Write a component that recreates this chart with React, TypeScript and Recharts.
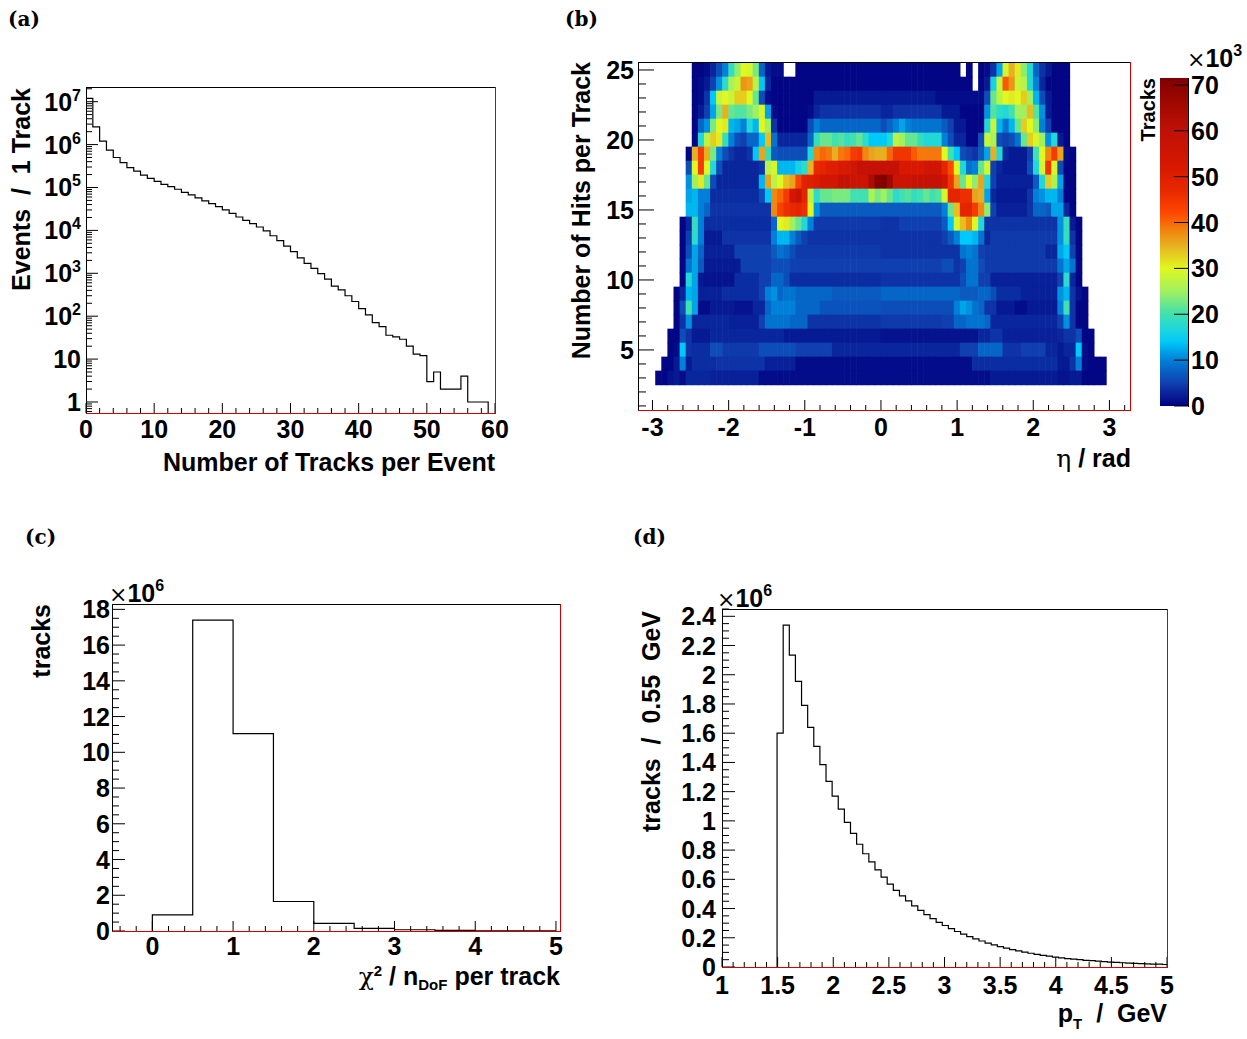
import React from 'react';
import { LineChart, Line, XAxis, YAxis, ScatterChart, Scatter, BarChart, Bar } from 'recharts';

const SANS = '"Liberation Sans", Arial, Helvetica, sans-serif';
const SERIF = '"DejaVu Serif", "Liberation Serif", serif';
const FS = 25;
const RED = '#d40000';

// ---------------- (a) tracks per event ----------------
const A_COUNTS = [
  1.2e7, 2.6e6, 1.2e6, 7.4e5, 5.0e5, 3.8e5, 2.9e5, 2.4e5, 1.95e5, 1.63e5,
  1.39e5, 1.18e5, 1.05e5, 9.1e4, 7.7e4, 6.7e4, 5.7e4, 4.9e4, 4.2e4, 3.6e4,
  3.0e4, 2.5e4, 2.05e4, 1.72e4, 1.44e4, 1.2e4, 9.7e3, 7.5e3, 5.8e3, 4.3e3,
  3.2e3, 2.3e3, 1.7e3, 1.3e3, 980, 730, 500, 410, 300, 220,
  150, 107, 71, 57, 36, 33, 29, 20, 13, 12,
  3, 5, 2, 2, 2, 4, 1, 1, 1, 0,
];
const A_XMIN = 0, A_XMAX = 60;
const A_YMIN = 0.554, A_YMAX = 2.2e7;
const A_X_TICKS = Array.from({ length: 31 }, (_, i) => 2 * i);
const A_Y_TICKS: number[] = [];
for (let d = -1; d <= 7; d++) for (let m = 1; m <= 9; m++) { const v = m * Math.pow(10, d); if (v >= A_YMIN && v <= A_YMAX) A_Y_TICKS.push(v); }

// ---------------- (b) hits vs eta ----------------
const ETA_MIN = -2.96, ETA_BIN = 0.08;
const HIT_ROWS = [25, 24, 23, 22, 21, 20, 19, 18, 17, 16, 15, 14, 13, 12, 11, 10, 9, 8, 7, 6, 5, 4, 3];
const HEAT: number[][] = [
  [0,0,0,0,0,0,.5,.5,1,3,6,10,19,24,30,29,23,8,2,1,1,0,0,.5,.5,.5,.5,.5,.5,.5,.5,.5,.5,.5,.5,.5,.5,
   .5,.5,.5,.5,.5,.5,.5,.5,.5,.5,.5,.5,.5,0,.5,0,.5,1,4,12,29,35,31,24,17,8,4,2,.5,.5,.5,0,0,0,0,0,0],
  [0,0,0,0,0,0,.5,1,2,5,11,18,26,28,37,36,27,14,3,.5,.5,.5,.5,.5,.5,.5,.5,.5,.5,.5,.5,.5,.5,.5,.5,.5,.5,
   .5,.5,.5,.5,.5,.5,.5,.5,.5,.5,.5,.5,.5,.5,.5,0,.5,2,16,28,41,37,28,27,17,10,3,.5,.5,.5,.5,0,0,0,0,0,0],
  [0,0,0,0,0,0,.5,1,4,14,28,30,28,33,33,30,22,6,1,.5,.5,.5,.5,.5,.5,.5,2,2,2,2,2,2,2,2,2,2,2,
   2,2,2,2,2,2,2,2,2,1,1,1,1,1,1,1,1,6,22,27,30,31,30,33,25,13,6,2,.5,.5,.5,0,0,0,0,0,0],
  [0,0,0,0,0,0,.5,2,5,12,23,35,22,21,21,23,25,29,12,1,.5,.5,.5,.5,.5,1,3,4,4,4,4,4,4,4,4,4,4,
   3,3,4,4,4,4,4,4,4,4,2,2,2,.5,.5,.5,.5,11,21,18,17,20,25,25,34,21,11,2,.5,.5,.5,0,0,0,0,0,0],
  [0,0,0,0,0,0,.5,8,11,23,30,31,13,12,10,17,13,30,25,4,.5,.5,.5,.5,.5,6,10,8,8,8,8,8,8,8,8,8,8,
   6,8,10,12,10,9,9,9,9,9,7,5,2,2,.5,.5,.5,17,28,13,9,13,22,33,30,24,10,5,.5,.5,.5,0,0,0,0,0,0],
  [0,0,0,0,0,0,.5,17,27,33,31,19,10,6,5,8,8,14,34,9,3,3,3,3,3,8,19,22,22,20,21,19,20,22,18,14,14,
   14,17,27,25,22,22,19,17,17,17,10,6,3,3,.5,.5,6,28,26,6,5,6,9,22,33,29,25,11,17,2,.5,0,0,0,0,0,0],
  [0,0,0,0,0,.5,35,44,35,23,10,6,4,3,3,4,14,36,19,7,6,6,6,6,6,17,38,40,39,35,39,40,44,45,38,36,35,
   35,40,45,45,45,41,39,39,39,39,30,20,14,6,5,4,7,12,35,17,3,2,2,2,5,20,30,38,44,36,1,.5,0,0,0,0,0],
  [0,0,0,0,0,6,30,44,30,17,6,3,3,3,3,3,3,4,27,29,13,13,13,16,18,35,47,48,50,50,52,52,55,58,58,58,58,
   58,58,58,52,52,52,52,55,55,55,48,42,30,17,9,10,22,29,5,3,2,2,2,2,6,17,29,45,29,6,.5,.5,0,0,0,0,0],
  [0,0,0,0,0,11,25,31,22,6,3,3,3,3,3,3,3,13,36,27,30,34,36,43,49,50,51,54,54,54,58,58,56,56,56,64,70,
   71.5,66,56,56,56,58,58,58,58,58,55,45,36,22,30,24,36,17,5,2.5,2.5,2.5,2.5,2.5,2.5,7,17,33,26,12,.5,.5,0,0,0,0,0],
  [0,0,0,0,0,12,13,10,10,3.5,3.5,3.5,3.5,3.5,3.5,3.5,3.5,6,14,38,40,44,54,57,48,27,18,22,22,23,23,23,20,20,20,26,23,
   25,22,18,20,21,19,20,22,20,21,29,48,48,46,46,36,35,12,3,2,2,2,2,2,4,10,11,13,13,10,.5,.5,0,0,0,0,0],
  [0,0,0,0,0,13,13,10,8,4,4,4,4,4,4,4,4,4,4,38,43,46,47,48,46,30,11,7,7,7,7,7,7,7,7,7,7,
   7,7,7,7,7,7,7,7,7,7,10,22,34,48,48,44,38,24,5,2.5,2.5,2.5,2.5,2.5,4,8,8,7,12,12,3,.5,0,0,0,0,0],
  [0,0,0,0,.5,3,19,10,3.5,3.5,3.5,3.5,3.5,3.5,3.5,3.5,3.5,3.5,3.5,8,30,31,25,22,17,10,4.5,4.5,4.5,4.5,4.5,4.5,4.5,4.5,4.5,4.5,4.5,
   4,4,4,5,5,5,5,5,5,5,7,14,29,34,38,30,17,4,4,4,4,4,4,4,4,4,4,4,4,11,19,2,.5,0,0,0,0],
  [0,0,0,0,.5,5,18,10,2,2,2,4,4,4,4,4,4,4,4,10,13,13,10,7,5,4,4,4,4,4,4,4,4,4,4,4,4,
   4,4,4,4,4,4,4,4,4,4,5,7,10,14,14,13,9,3,4.5,4.5,4.5,4.5,4.5,4.5,4.5,4.5,4.5,4.5,4.5,11,19,4,.5,0,0,0,0],
  [0,0,0,0,.5,6,12,8,2.5,2.5,2.5,2.5,2.5,5,5,5,5,5,5,7,9,8,6,4.5,4.5,4.5,4.5,4.5,4.5,4.5,4.5,4.5,4.5,4.5,4.5,4.5,4.5,
   4,4,4,4,4,4,4,4,4,4,4,4,4,9,10,9,5,4.5,4.5,4.5,4.5,4.5,4.5,4.5,4.5,4.5,4.5,3,3,12,14,5,.5,0,0,0,0],
  [0,0,0,0,.5,9,12,7,2,2,2,2,2,2,5,5,5,5,5,6,6,6,5,5,5,5,5,5,5,5,5,5,5,5,5,5,5,
   5,5,5,5,5,5,5,5,5,5,6,6,4,5,9,9,6,4.5,4.5,4.5,4.5,4.5,4.5,4.5,4.5,4.5,4.5,4.5,4.5,9,12,9,.5,0,0,0,0],
  [0,0,0,0,.5,17,12,2,1.5,1.5,1.5,1.5,1.5,3.5,3.5,3.5,3.5,5,5,8,8,6,3.5,3.5,3.5,3.5,3.5,3.5,3.5,3.5,3.5,3.5,3.5,3.5,3.5,3.5,3.5,
   4,4,4,4,4,4,4,4,4,4,4,4,4,6,9,9,5,5,2.5,2.5,2.5,2.5,2.5,2.5,2.5,2.5,2.5,2.5,2.5,5,18,3,.5,0,0,0,0],
  [0,0,0,.5,3,13,12,2.5,2.5,2.5,2.5,3.5,3.5,3.5,3.5,3.5,3.5,5,10,11,8,9,9,8,8,8,8,8,8,7,7,7,7,7,7,7,7,
   8,8,8,8,8,8,8,8,8,8,8,8,8,7,7,7,8,8,6,3.5,3.5,3.5,3.5,2.5,2.5,2.5,2.5,2.5,2.5,11,13,4,1.5,.5,0,0,0],
  [0,0,0,.5,6,20,12,1,1,2,2,2,2,1.5,1.5,1.5,3,3,8,10,10,10,10,8,8,8,8,6.5,6.5,6.5,6.5,6.5,6.5,6.5,6.5,6.5,6.5,
   6,6,6,6,6,6,6,6,6,6,6,6,10,12,11,9,8,4,4,2,2,2,1,1,2,2,2,2,2,10,20,4,.5,.5,0,0,0],
  [0,0,0,.5,4,11,3,3,3,3,3,3,2.5,2.5,2.5,2.5,2.5,5,9,9,9,9,8,8,8,4,4,4,4,4,4,4,4,4,4,4,4,
   4.5,4.5,4.5,4.5,4.5,4.5,4.5,4.5,4.5,4.5,5,5,8,8,9,9,9,8,3,3,3,3,3,3,3,3,3,3,3,5,11,4,.5,.5,0,0,0],
  [0,0,.5,.5,6,4,2,2,2,3,3,3,3,3,3,3,3,3,3,3,3,2,2,2,2,2,2,2,2,2,2,2,2,2,2,2,2,
   1.5,1.5,1.5,1.5,1.5,1.5,1.5,1.5,1.5,1.5,1.5,1.5,1.5,1.5,1.5,1.5,3,3,4,4,2.5,2.5,2.5,2.5,2.5,2.5,2.5,2.5,2.5,3,4,4,6,.5,.5,0,0],
  [0,0,.5,1,14,4,3.5,3.5,3.5,6,6,4.5,4.5,4.5,4.5,4.5,4.5,6,6,6,6,6,6,5,5,5,5,5,5,3,3,3,3,3,3,3,3,
   3,3,3,3,3,3,3,3,3,3,3,3,3,5,5,5,8,8,8,8,4,4,4,5,5,5,5,3,3,2,3,3,14,1,.5,0,0],
  [0,.5,.5,2,10,2,3.5,3.5,3.5,3.5,4,4,4,4,4,4,4,4,2.5,2.5,2.5,2.5,2.5,1,1,1,1,1,1,1,1,1,1,1,1,1,1,
   1,1,1,1,1,1,1,1,1,1,1,1,1,1,1,3.5,3.5,3.5,3.5,3.5,3.5,3.5,3.5,3.5,3.5,3.5,3.5,3.5,3.5,2,2,4,10,1,.5,.5,.5],
  [.5,.5,1.5,2,1,3,3,3,3,2.5,2.5,2.5,2.5,2.5,2.5,2.5,2.5,1,1,1,1,1,1,1,1,1,1,1,1,1,1,1,1,1,1,1,1,
   1,1,1,1,1,1,1,1,1,1,1,1,1,1,1,1,1,1,2,2,2,2,2,2,2,2,2,2,2,1.5,1.5,2,2,.5,.5,.5,.5],
];
const B_XMIN = -3.19, B_XMAX = 3.27, B_YMIN = 0.71, B_YMAX = 25.57;
const B_X_TICKS = Array.from({ length: 32 }, (_, i) => (i - 15) / 5);
const B_Y_TICKS = Array.from({ length: 25 }, (_, i) => i + 1);
const Z_TICKS = [0, 10, 20, 30, 40, 50, 60, 70];

// colour palette (value in 10^3 tracks -> rgb)
const PAL_STOPS = [0, 5, 10, 14, 17, 20, 25, 30, 35, 38, 42, 47, 52, 60, 66, 71.5];
const PAL_RGB = [[0,0,128],[16,64,176],[0,128,216],[0,200,248],[32,216,216],[64,224,176],[160,240,96],[224,248,32],[232,176,32],[240,136,16],[255,72,0],[232,40,0],[216,24,0],[192,16,8],[160,8,0],[128,0,0]];

// ---------------- (c) chi2 / ndof ----------------
const C_EDGES = [0, 0.5, 1, 1.5, 2, 2.5, 3, 3.5, 4, 4.5, 5];
const C_COUNTS = [0.9, 17.4, 11.05, 1.65, 0.43, 0.15, 0.07, 0.03, 0.015, 0.01];
const C_XMIN = -0.5, C_XMAX = 5.05, C_YMAX = 18.3;
const C_X_TICKS = Array.from({ length: 28 }, (_, i) => (i - 2) / 5);
const C_Y_TICKS = Array.from({ length: 37 }, (_, i) => i / 2);

// ---------------- (d) pT ----------------
const D_EDGE0 = 1.495, D_BIN = 0.055;
const D_COUNTS = [
  1.60, 2.34, 2.135, 1.955, 1.79, 1.64, 1.51, 1.385, 1.27, 1.17,
  1.08, 0.99, 0.915, 0.84, 0.775, 0.72, 0.665, 0.615, 0.567, 0.525,
  0.487, 0.452, 0.418, 0.387, 0.358, 0.331, 0.306, 0.284, 0.263, 0.243,
  0.225, 0.208, 0.192, 0.178, 0.164, 0.152, 0.140, 0.129, 0.119, 0.110,
  0.102, 0.094, 0.087, 0.080, 0.074, 0.068, 0.063, 0.058, 0.054, 0.050,
  0.046, 0.043, 0.040, 0.037, 0.034, 0.032, 0.029, 0.027, 0.025, 0.023,
  0.022, 0.020, 0.019, 0.017,
];
const D_XMIN = 1, D_XMAX = 5, D_YMAX = 2.45;
const D_X_TICKS = Array.from({ length: 41 }, (_, i) => (i + 10) / 10);
const D_Y_TICKS = Array.from({ length: 50 }, (_, i) => i / 20);

// ---------------- layout ----------------
const A_PLOT = { L: 86, T: 87, R: 495, B: 413 };
const B_PLOT = { L: 638, T: 62, R: 1130, B: 410 };
const Z_PLOT = { L: 1160, T: 78, R: 1188, B: 406 };
const C_PLOT = { L: 112, T: 604, R: 560, B: 931 };
const D_PLOT = { L: 722, T: 609, R: 1167, B: 967 };
const PAD = { l: 80, t: 10, r: 24, b: 44 };
type Plot = { L: number; T: number; R: number; B: number };
const boxOf = (p: Plot) => ({ left: p.L - PAD.l, top: p.T - PAD.t, width: p.R - p.L + PAD.l + PAD.r, height: p.B - p.T + PAD.t + PAD.b });

// ---------------- derived tables ----------------
const A_POINTS = A_COUNTS.map((c, i) => ({ x: i, y: Math.max(c, A_YMIN) }));
const C_POINTS = [{ x: C_EDGES[0], y: 0 }, ...C_COUNTS.map((c, i) => ({ x: C_EDGES[i + 1], y: c }))];
const D_POINTS = [{ x: D_EDGE0, y: 0 }, ...D_COUNTS.map((c, i) => ({ x: D_EDGE0 + D_BIN * (i + 1), y: c }))];
const HEAT_CELLS = HEAT.flatMap((row, r) => row.map((v, k) => ({ eta: ETA_MIN + ETA_BIN * (k + 0.5), hits: HIT_ROWS[r], v }))).filter((c) => c.v > 0);
const Z_MAX = Math.max(...HEAT.map((r) => Math.max(...r)));

function heatColor(v: number) {
  let i = 0;
  while (i < PAL_STOPS.length - 2 && v > PAL_STOPS[i + 1]) i++;
  const t = Math.max(0, Math.min(1, (v - PAL_STOPS[i]) / (PAL_STOPS[i + 1] - PAL_STOPS[i])));
  const a = PAL_RGB[i], b = PAL_RGB[i + 1];
  const c = a.map((x, j) => Math.round(x + (b[j] - x) * t));
  return `rgb(${c[0]},${c[1]},${c[2]})`;
}

const CELL_W = ETA_BIN * (B_PLOT.R - B_PLOT.L) / (B_XMAX - B_XMIN);
const CELL_H = 1 * (B_PLOT.B - B_PLOT.T) / (B_YMAX - B_YMIN);
const HeatCell = (props: any) => {
  const { cx, cy, payload } = props;
  if (cx == null || cy == null) return <g />;
  return <rect x={cx - CELL_W / 2 - 0.3} y={cy - CELL_H / 2 - 0.3} width={CELL_W + 0.6} height={CELL_H + 0.6} fill={heatColor(payload.v)} stroke="none" />;
};

// ---------------- ticks ----------------
const txt = { fontFamily: SANS, fontWeight: 700, fontSize: FS, fill: '#000' } as const;
type TickOpts = {
  orient: 'left' | 'bottom' | 'right';
  isMajor: (v: number) => boolean;
  majorLen: number; minorLen: number;
  fmt: (v: number) => React.ReactNode;
  gap: number;
};
const makeTick = (o: TickOpts) => (props: any) => {
  const { x, y, payload } = props;
  const v = payload.value as number;
  const major = o.isMajor(v);
  const len = major ? o.majorLen : o.minorLen;
  if (o.orient === 'left') {
    return (
      <g>
        <line x1={x} y1={y} x2={x + len} y2={y} stroke="#000" strokeWidth={1} />
        {major && <text x={x - o.gap} y={y + 9} textAnchor="end" style={txt}>{o.fmt(v)}</text>}
      </g>
    );
  }
  if (o.orient === 'bottom') {
    return (
      <g>
        <line x1={x} y1={y} x2={x} y2={y - len} stroke="#000" strokeWidth={1} />
        {major && <text x={x} y={y + o.gap} textAnchor="middle" style={txt}>{o.fmt(v)}</text>}
      </g>
    );
  }
  return (
    <g>
      <line x1={x} y1={y} x2={x - len} y2={y} stroke="#000" strokeWidth={1} />
      {major && <text x={x + o.gap} y={y + 9} textAnchor="start" style={txt}>{o.fmt(v)}</text>}
    </g>
  );
};
const near = (a: number, b: number) => Math.abs(a - b) < 1e-6;
const logFmt = (v: number) => {
  const e = Math.round(Math.log10(v));
  if (e === 0) return '1';
  if (e === 1) return '10';
  return (<><tspan>10</tspan><tspan dy={-10} style={{ fontSize: 16 }}>{e}</tspan></>);
};
const aXTick = makeTick({ orient: 'bottom', isMajor: (v) => near(v % 10, 0), majorLen: 10, minorLen: 5, fmt: (v) => String(v), gap: 25 });
const aYTick = makeTick({ orient: 'left', isMajor: (v) => near(Math.log10(v), Math.round(Math.log10(v))), majorLen: 12, minorLen: 6, fmt: logFmt, gap: 5 });
const bXTick = makeTick({ orient: 'bottom', isMajor: (v) => near(v, Math.round(v)), majorLen: 10, minorLen: 5, fmt: (v) => String(Math.round(v)), gap: 26 });
const bYTick = makeTick({ orient: 'left', isMajor: (v) => v % 5 === 0, majorLen: 16, minorLen: 8, fmt: (v) => String(v), gap: 4 });
const zTick = makeTick({ orient: 'right', isMajor: () => true, majorLen: 14, minorLen: 14, fmt: (v) => String(v), gap: 3 });
const cXTick = makeTick({ orient: 'bottom', isMajor: (v) => near(v, Math.round(v)), majorLen: 10, minorLen: 5, fmt: (v) => String(Math.round(v)), gap: 24 });
const cYTick = makeTick({ orient: 'left', isMajor: (v) => near(v % 2, 0), majorLen: 13, minorLen: 7, fmt: (v) => String(v), gap: 2 });
const dXTick = makeTick({ orient: 'bottom', isMajor: (v) => near(v * 2, Math.round(v * 2)), majorLen: 10, minorLen: 5, fmt: (v) => String(Math.round(v * 10) / 10), gap: 27 });
const dYTick = makeTick({ orient: 'left', isMajor: (v) => Math.round(v * 20) % 4 === 0, majorLen: 13, minorLen: 7, fmt: (v) => String(Math.round(v * 10) / 10), gap: 6 });

const axisCommon = { interval: 0 as const, tickSize: 0, tickMargin: 0, axisLine: false, tickLine: false, allowDataOverflow: true };
const margin = { top: PAD.t, right: PAD.r, left: 0, bottom: 0 };

function PanelA() {
  const b = boxOf(A_PLOT);
  return (
    <div style={{ position: 'absolute', left: b.left, top: b.top }}>
      <LineChart width={b.width} height={b.height} data={A_POINTS} margin={margin}>
        <XAxis dataKey="x" type="number" domain={[A_XMIN, A_XMAX]} ticks={A_X_TICKS} height={PAD.b} tick={aXTick} {...axisCommon} />
        <YAxis type="number" scale="log" domain={[A_YMIN, A_YMAX]} ticks={A_Y_TICKS} width={PAD.l} tick={aYTick} {...axisCommon} />
        <Line dataKey="y" type="stepAfter" stroke="#000" strokeWidth={1.2} dot={false} activeDot={false} isAnimationActive={false} />
      </LineChart>
    </div>
  );
}

function PanelB() {
  const b = boxOf(B_PLOT);
  return (
    <div style={{ position: 'absolute', left: b.left, top: b.top }}>
      <ScatterChart width={b.width} height={b.height} margin={margin}>
        <Scatter data={HEAT_CELLS} dataKey="hits" shape={HeatCell} isAnimationActive={false} />
        <XAxis dataKey="eta" type="number" domain={[B_XMIN, B_XMAX]} ticks={B_X_TICKS} height={PAD.b} tick={bXTick} {...axisCommon} />
        <YAxis dataKey="hits" type="number" domain={[B_YMIN, B_YMAX]} ticks={B_Y_TICKS} width={PAD.l} tick={bYTick} {...axisCommon} />
      </ScatterChart>
    </div>
  );
}

function ColorBar() {
  const w = Z_PLOT.R - Z_PLOT.L;
  return (
    <div style={{ position: 'absolute', left: Z_PLOT.L, top: Z_PLOT.T - 10 }}>
      <BarChart width={w + 56} height={Z_PLOT.B - Z_PLOT.T + 34} data={[{ k: 'z', v: Z_MAX }]} margin={{ top: 10, right: 0, left: 0, bottom: 24 }} barCategoryGap={0} barGap={0}>
        <defs>
          <linearGradient id="zgrad" x1="0" y1="1" x2="0" y2="0">
            {PAL_STOPS.map((s, i) => (
              <stop key={i} offset={s / Z_MAX} stopColor={`rgb(${PAL_RGB[i][0]},${PAL_RGB[i][1]},${PAL_RGB[i][2]})`} />
            ))}
          </linearGradient>
        </defs>
        <XAxis dataKey="k" type="category" hide />
        <Bar dataKey="v" fill="url(#zgrad)" isAnimationActive={false} />
        <YAxis orientation="right" type="number" domain={[0, Z_MAX]} ticks={Z_TICKS} width={56} tick={zTick} {...axisCommon} />
      </BarChart>
    </div>
  );
}

function PanelC() {
  const b = boxOf(C_PLOT);
  return (
    <div style={{ position: 'absolute', left: b.left, top: b.top }}>
      <LineChart width={b.width} height={b.height} data={C_POINTS} margin={margin}>
        <XAxis dataKey="x" type="number" domain={[C_XMIN, C_XMAX]} ticks={C_X_TICKS} height={PAD.b} tick={cXTick} {...axisCommon} />
        <YAxis type="number" domain={[0, C_YMAX]} ticks={C_Y_TICKS} width={PAD.l} tick={cYTick} {...axisCommon} />
        <Line dataKey="y" type="stepBefore" stroke="#000" strokeWidth={1.2} dot={false} activeDot={false} isAnimationActive={false} />
      </LineChart>
    </div>
  );
}

function PanelD() {
  const b = boxOf(D_PLOT);
  return (
    <div style={{ position: 'absolute', left: b.left, top: b.top }}>
      <LineChart width={b.width} height={b.height} data={D_POINTS} margin={margin}>
        <XAxis dataKey="x" type="number" domain={[D_XMIN, D_XMAX]} ticks={D_X_TICKS} height={PAD.b} tick={dXTick} {...axisCommon} />
        <YAxis type="number" domain={[0, D_YMAX]} ticks={D_Y_TICKS} width={PAD.l} tick={dYTick} {...axisCommon} />
        <Line dataKey="y" type="stepBefore" stroke="#000" strokeWidth={1.2} dot={false} activeDot={false} isAnimationActive={false} />
      </LineChart>
    </div>
  );
}

function Frame({ p }: { p: Plot }) {
  return (
    <g>
      <line x1={p.L} y1={p.T + 0.5} x2={p.R + 1} y2={p.T + 0.5} stroke="#000" />
      <line x1={p.L + 0.5} y1={p.T} x2={p.L + 0.5} y2={p.B + 1} stroke="#000" />
      <line x1={p.L} y1={p.B + 0.5} x2={p.R + 1} y2={p.B + 0.5} stroke={RED} />
      <line x1={p.R + 0.5} y1={p.T} x2={p.R + 0.5} y2={p.B + 1} stroke={RED} />
    </g>
  );
}

const T = { fontFamily: SANS, fontWeight: 700, fontSize: FS, fill: '#000', whiteSpace: 'pre' } as const;
const PL = { fontFamily: SERIF, fontWeight: 700, fontSize: 20, fill: '#000' } as const;

function Exp({ x, y, e }: { x: number; y: number; e: string }) {
  return (
    <text x={x} y={y} style={T}>
      <tspan style={{ fontWeight: 400, fontFamily: SERIF, fontSize: 22 }}>×</tspan>
      <tspan>10</tspan>
      <tspan dy={-11} style={{ fontSize: 16 }}>{e}</tspan>
    </text>
  );
}

function Overlay() {
  return (
    <svg width={1247} height={1039} style={{ position: 'absolute', left: 0, top: 0, pointerEvents: 'none' }}>
      <Frame p={A_PLOT} />
      <Frame p={B_PLOT} />
      <Frame p={C_PLOT} />
      <Frame p={D_PLOT} />
      <line x1={Z_PLOT.R + 0.5} y1={Z_PLOT.T} x2={Z_PLOT.R + 0.5} y2={Z_PLOT.B + 1} stroke="#000" />

      <text x={8} y={26} style={PL}>(a)</text>
      <text x={565} y={26} style={PL}>(b)</text>
      <text x={25} y={544} style={PL}>(c)</text>
      <text x={633} y={544} style={PL}>(d)</text>

      <text transform="translate(30,88) rotate(-90)" textAnchor="end" style={T}>{'Events  /  1 Track'}</text>
      <text x={495} y={471} textAnchor="end" style={T}>Number of Tracks per Event</text>

      <text transform="translate(590,62) rotate(-90)" textAnchor="end" style={T}>Number of Hits per Track</text>
      <text x={1131} y={467} textAnchor="end" style={T}>
        <tspan style={{ fontFamily: SERIF, fontWeight: 400 }}>η</tspan>
        <tspan>{' / rad'}</tspan>
      </text>
      <text transform="translate(1155,78) rotate(-90)" textAnchor="end" style={{ ...T, fontSize: 20 }}>Tracks</text>
      <Exp x={1187} y={67} e="3" />

      <text transform="translate(50,604) rotate(-90)" textAnchor="end" style={T}>tracks</text>
      <Exp x={109} y={602} e="6" />
      <text x={560} y={985} textAnchor="end" style={T}>
        <tspan style={{ fontFamily: SERIF, fontWeight: 400 }}>χ</tspan>
        <tspan dy={-9} style={{ fontSize: 15 }}>2</tspan>
        <tspan dy={9}>{' / n'}</tspan>
        <tspan dy={5} style={{ fontSize: 15 }}>DoF</tspan>
        <tspan dy={-5}>{' per track'}</tspan>
      </text>

      <text transform="translate(660,611) rotate(-90)" textAnchor="end" style={T}>{'tracks  /  0.55  GeV'}</text>
      <Exp x={717} y={607} e="6" />
      <text x={1167} y={1022} textAnchor="end" style={T}>
        <tspan>p</tspan>
        <tspan dy={7} style={{ fontSize: 15 }}>T</tspan>
        <tspan dy={-7}>{'  /  GeV'}</tspan>
      </text>
    </svg>
  );
}

export default function App() {
  return (
    <div style={{ position: 'absolute', left: 0, top: 0, width: 1247, height: 1039, background: '#fff', overflow: 'hidden' }}>
      <PanelA />
      <PanelB />
      <ColorBar />
      <PanelC />
      <PanelD />
      <Overlay />
    </div>
  );
}
